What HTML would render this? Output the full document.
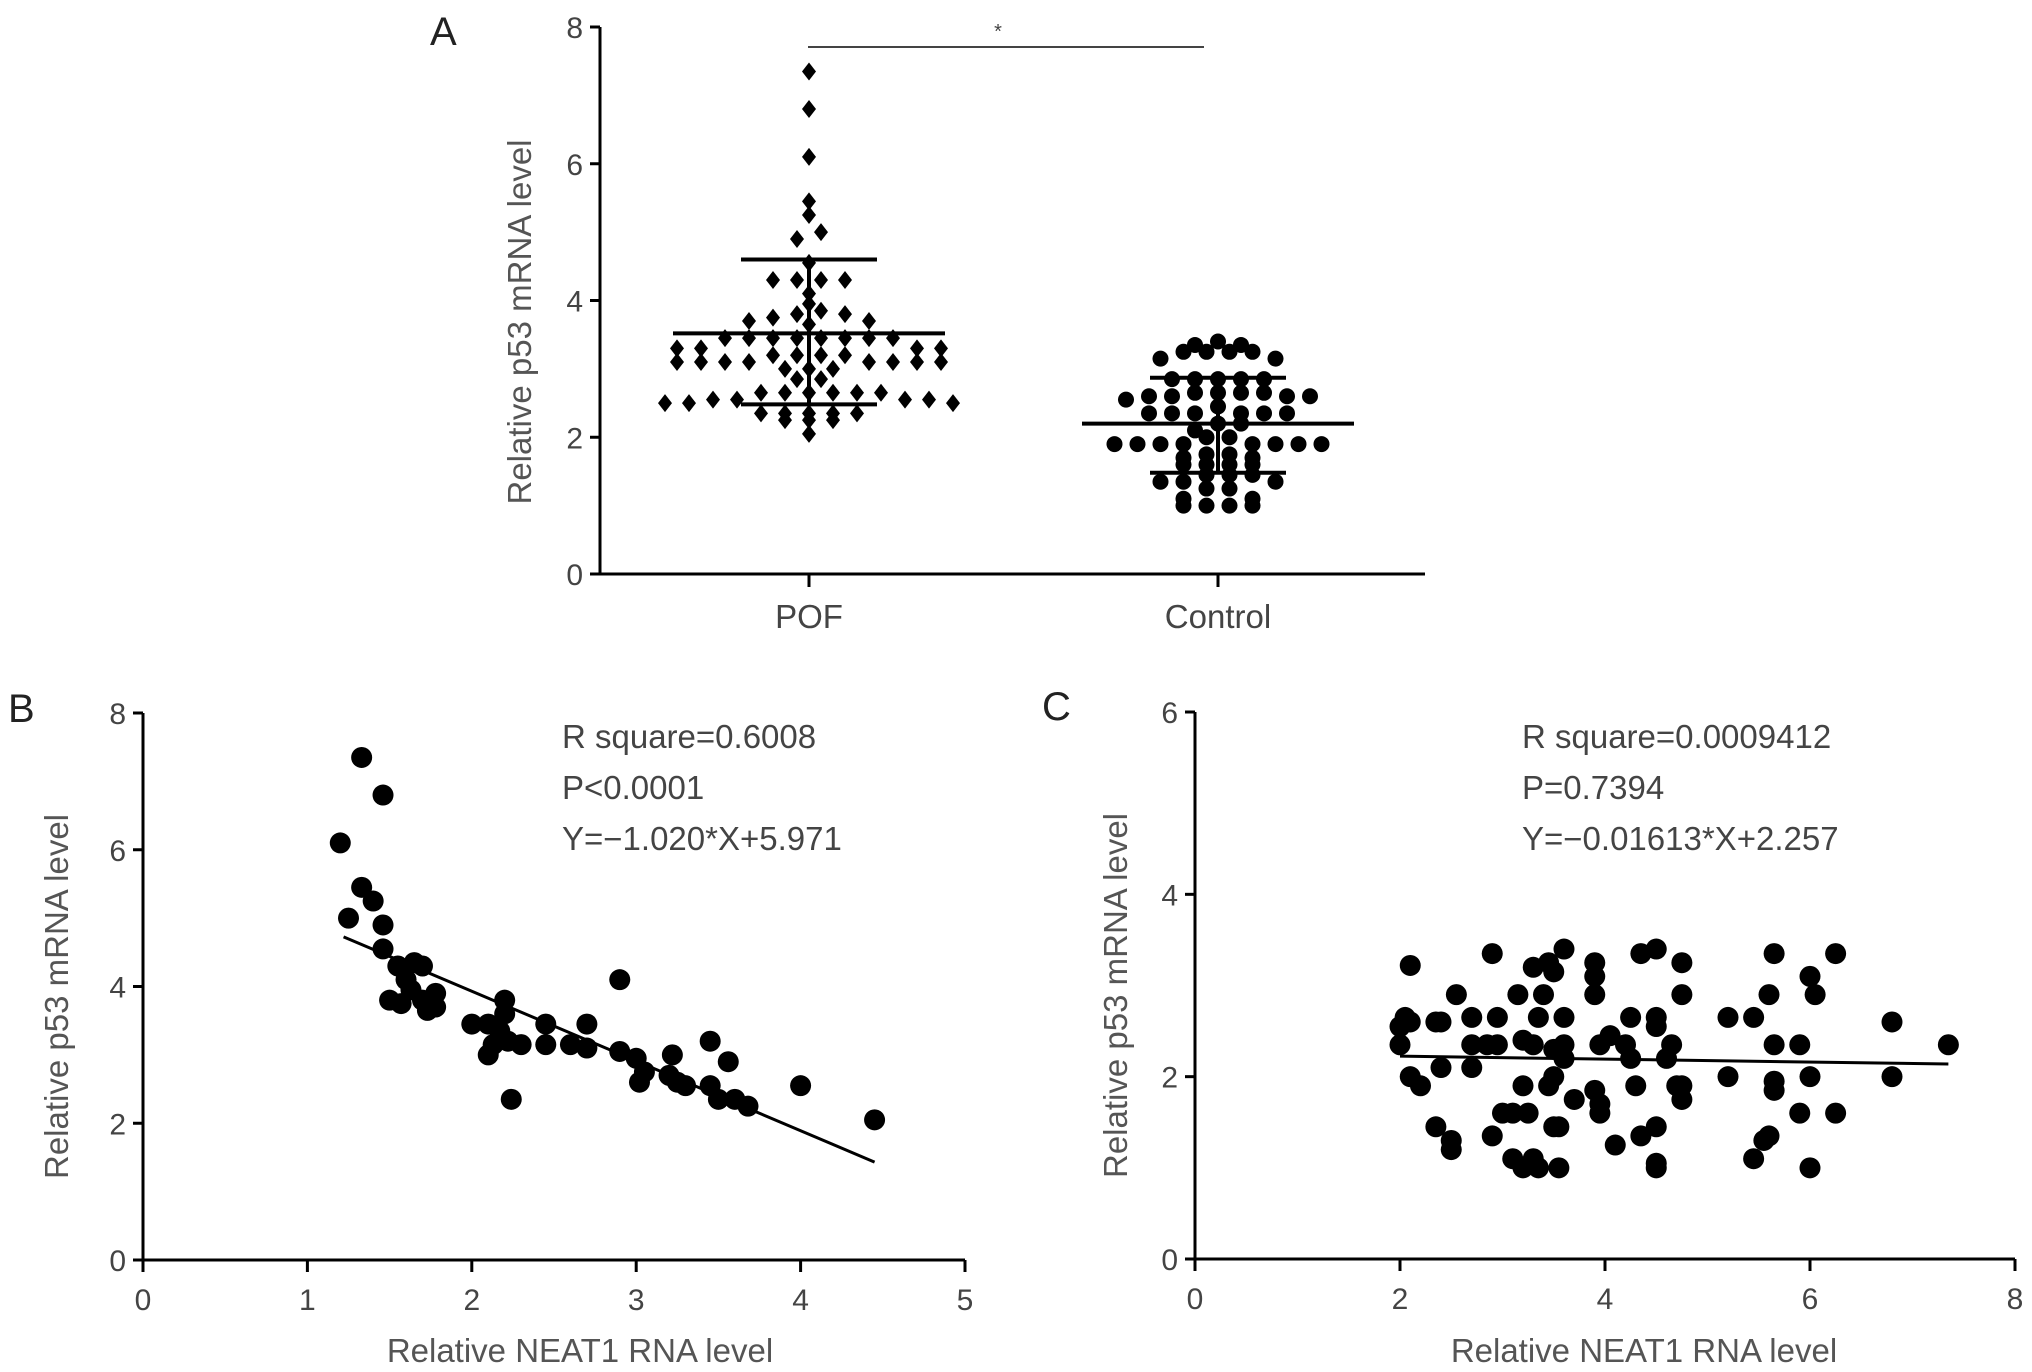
<!DOCTYPE html>
<html><head><meta charset="utf-8"><style>
html,body{margin:0;padding:0;background:#fff}
svg{display:block}
text{font-family:"Liberation Sans",sans-serif}
</style></head><body>
<svg id="fig" width="2032" height="1372" viewBox="0 0 2032 1372" xmlns="http://www.w3.org/2000/svg"></svg>
<script>
// ---- Panel A data ----
const groupsA = ["POF", "Control"];
const pofValues = [7.35,6.8,6.1,5.45,5.25,5.0,4.9,4.55,4.3,4.3,4.3,4.3,4.1,3.95,3.85,3.8,3.8,3.75,3.7,3.7,3.65,
 3.45,3.45,3.45,3.45,3.45,3.45,3.45,3.45,3.3,3.3,3.3,3.3,3.2,3.2,3.2,3.2,3.1,3.1,3.1,3.1,3.1,3.1,3.1,3.1,
 3.0,3.0,3.0,2.85,2.85,2.65,2.65,2.65,2.65,2.65,2.65,2.55,2.55,2.55,2.55,2.5,2.5,2.5,2.35,2.35,2.35,2.35,2.35,2.25,2.25,2.25,2.05];
const controlValues = [3.4,3.35,3.35,3.25,3.25,3.25,3.25,3.15,3.15,2.85,2.85,2.85,2.85,2.85,2.65,2.65,2.65,2.65,2.6,2.6,2.6,2.6,2.55,2.45,
 2.35,2.35,2.35,2.35,2.35,2.35,2.2,2.2,2.1,2.0,2.0,1.9,1.9,1.9,1.9,1.9,1.9,1.9,1.9,1.75,1.75,1.7,1.7,1.6,1.6,1.6,1.6,
 1.45,1.45,1.45,1.35,1.35,1.35,1.25,1.25,1.1,1.1,1.0,1.0,1.0,1.0];
const groupMeans = [3.52, 2.2];
const groupSDupper = [4.6, 2.87];
const groupSDlower = [2.48, 1.48];
const ticksA = [0,2,4,6,8];
// ---- Panel B data ----
const neatB = [1.33,1.46,1.2,1.33,1.4,1.25,1.46,1.46,1.55,1.65,1.7,1.6,1.63,1.5,1.57,1.7,1.78,1.78,1.73,2.0,2.1,2.2,2.2,2.17,2.22,2.1,2.13,2.3,2.45,2.45,2.6,2.7,2.7,2.9,2.9,3.0,3.05,3.02,2.24,3.22,3.2,3.25,3.3,3.45,3.45,3.5,3.56,3.6,3.68,4.0,4.45];
const p53B = [7.35,6.8,6.1,5.45,5.25,5.0,4.9,4.55,4.3,4.35,4.3,4.1,3.95,3.8,3.75,3.8,3.9,3.7,3.65,3.45,3.45,3.8,3.6,3.35,3.2,3.0,3.15,3.15,3.45,3.15,3.15,3.45,3.1,4.1,3.05,2.95,2.75,2.6,2.35,3.0,2.7,2.6,2.55,3.2,2.55,2.35,2.9,2.35,2.25,2.55,2.05];
const fitB = {slope:-1.020, intercept:5.971, xmin:1.22, xmax:4.45};
const xTicksB = [0,1,2,3,4,5];
const yTicksB = [0,2,4,6,8];
const textB = ["R square=0.6008","P<0.0001","Y=\u22121.020*X+5.971"];
// ---- Panel C data ----
const neatC = [2.1,2.05,2.0,2.1,2.0,2.1,2.2,2.35,2.4,2.35,2.5,2.5,2.4,2.55,2.7,2.7,2.7,2.85,2.9,2.9,2.95,2.95,3.0,3.1,3.1,3.2,3.15,3.2,3.2,3.25,3.3,3.3,3.35,3.3,3.35,3.45,3.4,3.45,3.5,3.5,3.5,3.5,3.55,3.55,3.6,3.6,3.6,3.6,3.7,3.9,3.9,3.9,3.9,3.95,3.95,3.95,4.05,4.1,4.2,4.25,4.25,4.3,4.35,4.35,4.5,4.5,4.5,4.5,4.5,4.5,4.6,4.65,4.7,4.75,4.75,4.75,4.75,5.2,5.2,5.45,5.45,5.55,5.6,5.6,5.65,5.65,5.65,5.65,5.9,5.9,6.0,6.0,6.0,6.05,6.25,6.25,6.8,6.8,7.35];
const p53C = [3.22,2.65,2.55,2.6,2.35,2.0,1.9,2.6,2.6,1.45,1.3,1.2,2.1,2.9,2.65,2.35,2.1,2.35,3.35,1.35,2.65,2.35,1.6,1.6,1.1,1.0,2.9,2.4,1.9,1.6,3.2,2.35,2.65,1.1,1.0,3.25,2.9,1.9,3.15,2.3,2.0,1.45,1.45,1.0,3.4,2.65,2.2,2.35,1.75,3.25,3.1,2.9,1.85,1.7,1.6,2.35,2.45,1.25,2.35,2.65,2.2,1.9,3.35,1.35,3.4,2.65,2.55,1.45,1.05,1.0,2.2,2.35,1.9,3.25,2.9,1.9,1.75,2.65,2.0,2.65,1.1,1.3,1.35,2.9,3.35,2.35,1.95,1.85,2.35,1.6,3.1,2.0,1.0,2.9,3.35,1.6,2.6,2.0,2.35];
const fitC = {slope:-0.01613, intercept:2.257, xmin:2.0, xmax:7.35};
const xTicksC = [0,2,4,6,8];
const yTicksC = [0,2,4,6];
const textC = ["R square=0.0009412","P=0.7394","Y=\u22120.01613*X+2.257"];

const NS="http://www.w3.org/2000/svg";
const svg=document.getElementById('fig');
function el(tag,attrs,parent){const e=document.createElementNS(NS,tag);for(const k in attrs)e.setAttribute(k,attrs[k]);(parent||svg).appendChild(e);return e;}
function txt(s,attrs,parent){const t=el('text',attrs,parent);t.textContent=s;return t;}

// ---------- Panel A ----------
const gA=el('g',{});


const A={x0:600,x1:1425,y0:574,y8:27};
const yA=v=>A.y0+(A.y8-A.y0)*v/8;
const xCat=[809,1218];
const pl=txt('A',{x:430,y:45,'font-size':40,fill:'#222'},gA);

const axA=el('path',{d:`M${A.x0},${A.y8} V${A.y0} H${A.x1}`,stroke:'#000','stroke-width':3,fill:'none'},gA);

ticksA.forEach(t=>{
  el('line',{x1:A.x0-10,x2:A.x0,y1:yA(t),y2:yA(t),stroke:'#000','stroke-width':3},gA);
  const l=txt(String(t),{x:A.x0-17,y:yA(t)+11,'font-size':30,fill:'#444','text-anchor':'end'},gA);
  
});
groupsA.forEach((g,i)=>{
  el('line',{x1:xCat[i],x2:xCat[i],y1:A.y0,y2:A.y0+13,stroke:'#000','stroke-width':3},gA);
  const l=txt(g,{x:xCat[i],y:628,'font-size':33,fill:'#444','text-anchor':'middle'},gA);
  
});
const tA=txt('Relative p53 mRNA level',{x:0,y:0,'font-size':33,fill:'#555','text-anchor':'middle',transform:`translate(531,322) rotate(-90)`},gA);

const sig=el('line',{x1:808,x2:1204,y1:47,y2:47,stroke:'#444','stroke-width':2},gA);

const star=txt('*',{x:998,y:38,'font-size':20,fill:'#444','text-anchor':'middle'},gA);


// bin nearby values into rows, spread each row evenly (y kept at true value)
function rows(vals,cx,sp,bin){
  const out=[];const groups={};
  vals.forEach((v,i)=>{const b=Math.round(v/bin+1e-9);(groups[b]=groups[b]||[]).push(i);});
  Object.keys(groups).forEach(b=>{
    const idx=groups[b].slice().sort((a,c)=>vals[a]-vals[c]);
    const n=idx.length;
    // interleave so values mix across the row
    idx.forEach((id,j)=>{
      const pos=(j%2===0)?Math.floor(j/2):n-1-Math.floor(j/2);
      out[id]=[cx+(pos-(n-1)/2)*sp,yA(vals[id])];
    });
  });
  return out;
}
const pofPos=rows(pofValues,xCat[0],24,0.2);
pofPos.forEach((p,i)=>{
  const d=el('path',{d:`M${p[0]},${p[1]-9} L${p[0]+7},${p[1]} L${p[0]},${p[1]+9} L${p[0]-7},${p[1]} Z`,fill:'#000'},gA);
  
});
const ctlPos=rows(controlValues,xCat[1],23,0.2);
ctlPos.forEach((p,i)=>{
  const c=el('circle',{cx:p[0],cy:p[1],r:8,fill:'#000'},gA);
  
});
groupsA.forEach((g,i)=>{
  const m=el('line',{x1:xCat[i]-136,x2:xCat[i]+136,y1:yA(groupMeans[i]),y2:yA(groupMeans[i]),stroke:'#000','stroke-width':4},gA);
  
  const e=el('path',{d:`M${xCat[i]-68},${yA(groupSDupper[i])} H${xCat[i]+68} M${xCat[i]},${yA(groupSDupper[i])} V${yA(groupSDlower[i])} M${xCat[i]-68},${yA(groupSDlower[i])} H${xCat[i]+68}`,stroke:'#000','stroke-width':4,fill:'none'},gA);
  
});

// ---------- Scatter panels ----------
function scatter(cfg){
  const g=el('g',{});
  
  
  const xs=v=>cfg.x0+(cfg.x1-cfg.x0)*v/cfg.xmax;
  const ys=v=>cfg.y0+(cfg.ytop-cfg.y0)*v/cfg.ymax;
  const lab=txt(cfg.label,{x:cfg.lx,y:cfg.ly,'font-size':40,fill:'#222'},g);
  
  const ax=el('path',{d:`M${cfg.x0},${cfg.ytop} V${cfg.y0} H${cfg.x1}`,stroke:'#000','stroke-width':3,fill:'none'},g);
  
  cfg.yt.forEach(t=>{
    el('line',{x1:cfg.x0-10,x2:cfg.x0,y1:ys(t),y2:ys(t),stroke:'#000','stroke-width':3},g);
    const l=txt(String(t),{x:cfg.x0-17,y:ys(t)+11,'font-size':30,fill:'#444','text-anchor':'end'},g);
    
  });
  cfg.xt.forEach(t=>{
    el('line',{x1:xs(t),x2:xs(t),y1:cfg.y0,y2:cfg.y0+12,stroke:'#000','stroke-width':3},g);
    const l=txt(String(t),{x:xs(t),y:cfg.y0+50,'font-size':30,fill:'#444','text-anchor':'middle'},g);
    
  });
  const yt=txt('Relative p53 mRNA level',{x:0,y:0,'font-size':33,fill:'#555','text-anchor':'middle',transform:`translate(${cfg.ytx},${(cfg.y0+cfg.ytop)/2+10}) rotate(-90)`},g);
  
  const xt=txt('Relative NEAT1 RNA level',{x:(cfg.x0+cfg.x1)/2+cfg.xtShift,y:1362,'font-size':33,fill:'#555','text-anchor':'middle'},g);
  
  cfg.xv.forEach((v,i)=>{
    const c=el('circle',{cx:xs(v),cy:ys(cfg.yv[i]),r:10.5,fill:'#000'},g);
    
  });
  const f=cfg.fit;
  const ln=el('line',{x1:xs(f.xmin),x2:xs(f.xmax),y1:ys(f.slope*f.xmin+f.intercept),y2:ys(f.slope*f.xmax+f.intercept),stroke:'#000','stroke-width':3},g);
  
  cfg.text.forEach((s,i)=>{
    const t=txt(s,{x:cfg.tx,y:748+i*51,'font-size':33,fill:'#444'},g);
    
  });
}
scatter({name:'panel-b',label:'B',lx:8,ly:722,x0:143,x1:965,y0:1260,ytop:713,xmax:5,ymax:8,xt:xTicksB,yt:yTicksB,xv:neatB,yv:p53B,fit:fitB,text:textB,tx:562,ytx:68,xtShift:26});
scatter({name:'panel-c',label:'C',lx:1042,ly:720,x0:1195,x1:2015,y0:1259,ytop:712,xmax:8,ymax:6,xt:xTicksC,yt:yTicksC,xv:neatC,yv:p53C,fit:fitC,text:textC,tx:1522,ytx:1127,xtShift:39});
</script>
</body></html>
